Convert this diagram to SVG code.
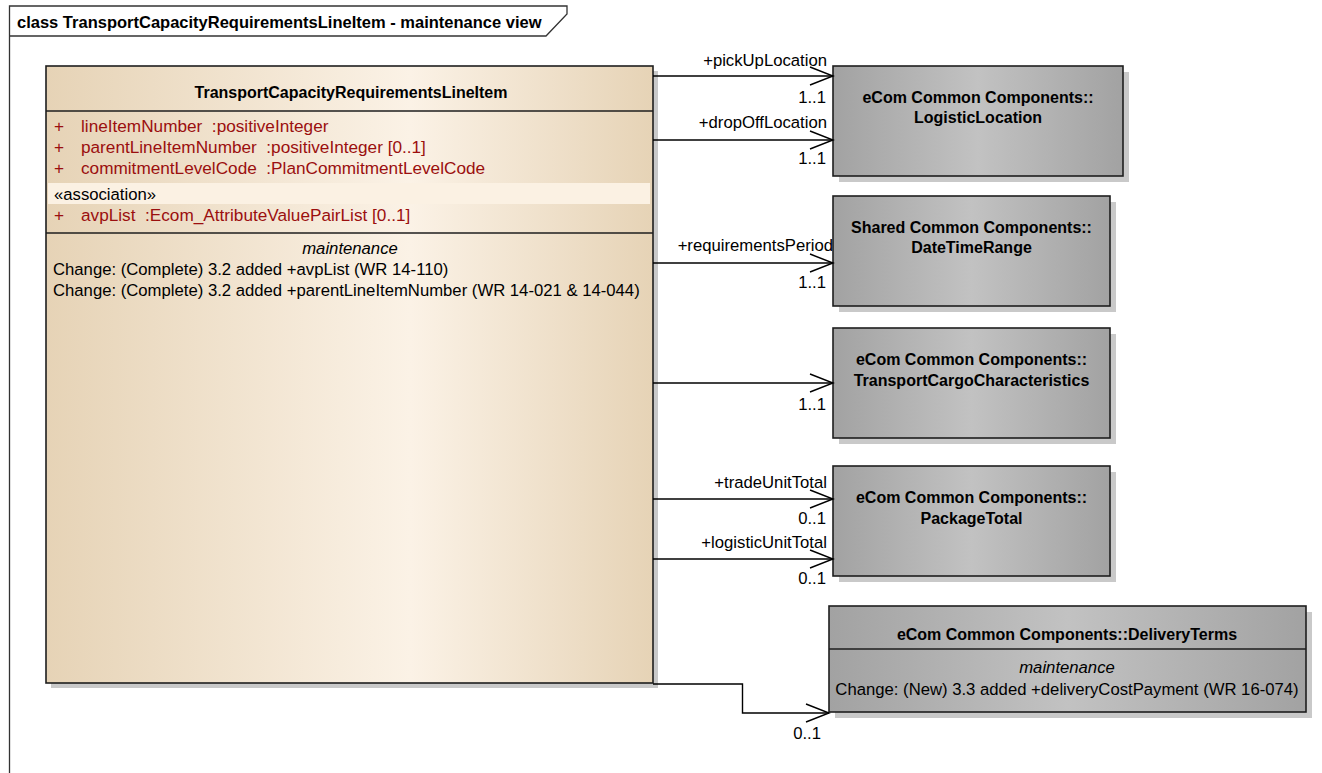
<svg xmlns="http://www.w3.org/2000/svg" width="1322" height="773" viewBox="0 0 1322 773">
<style>
text{font-family:"Liberation Sans",Arial,sans-serif;font-size:16.7px;fill:#000}
.b{font-weight:bold;font-size:16px}
.t{font-weight:bold;font-size:16.5px}
.attr{fill:#9b0f0f;font-size:17.2px;white-space:pre}
.it{font-style:italic}
.c{text-anchor:middle}
.r{text-anchor:end}
.box{stroke:#1e1e1e;stroke-width:1.6}
.sh{fill:#c9c9c9}
.ln{fill:none;stroke:#000;stroke-width:1.4}
</style>
<defs>
<linearGradient id="tan" x1="0" y1="0" x2="1" y2="0">
<stop offset="0" stop-color="#e6d3b6"/>
<stop offset="0.6" stop-color="#fbf2e6"/>
<stop offset="1" stop-color="#e6d3b6"/>
</linearGradient>
<linearGradient id="gray" x1="0" y1="0" x2="1" y2="0">
<stop offset="0" stop-color="#a2a2a2"/>
<stop offset="0.5" stop-color="#c2c2c2"/>
<stop offset="1" stop-color="#a2a2a2"/>
</linearGradient>
<marker id="open" markerWidth="26" markerHeight="22" refX="24" refY="11" orient="auto" markerUnits="userSpaceOnUse">
<path d="M1,2 L24,11 L1,20" fill="none" stroke="#000" stroke-width="1.4"/>
</marker>
</defs>
<rect width="1322" height="773" fill="#fff"/>
<g id="frame">
<path d="M9.5,773 V6 H567 V14 L546,36 H9.5" fill="none" stroke="#333" stroke-width="1.3"/>
<text x="17" y="28" class="t">class TransportCapacityRequirementsLineItem - maintenance view</text>
</g>
<g id="TransportCapacityRequirementsLineItem">
<rect x="51" y="71" width="607" height="617" class="sh"/>
<rect x="46" y="66" width="607" height="617" fill="url(#tan)" class="box"/>
<line x1="46" y1="111" x2="653" y2="111" class="box"/>
<text x="351" y="98" class="b c">TransportCapacityRequirementsLineItem</text>
<text x="54" y="132" class="attr">+</text><text x="81" y="132" class="attr" xml:space="preserve">lineItemNumber  :positiveInteger</text>
<text x="54" y="153" class="attr">+</text><text x="81" y="153" class="attr" xml:space="preserve">parentLineItemNumber  :positiveInteger [0..1]</text>
<text x="54" y="174" class="attr">+</text><text x="81" y="174" class="attr" xml:space="preserve">commitmentLevelCode  :PlanCommitmentLevelCode</text>
<rect x="48" y="183" width="602" height="21" fill="#fbf1e3"/>
<text x="54" y="200">«association»</text>
<text x="54" y="221" class="attr">+</text><text x="81" y="221" class="attr" xml:space="preserve">avpList  :Ecom_AttributeValuePairList [0..1]</text>
<line x1="46" y1="233" x2="653" y2="233" class="box"/>
<text x="350" y="254" class="it c">maintenance</text>
<text x="53" y="275">Change: (Complete) 3.2 added +avpList (WR 14-110)</text>
<text x="53" y="296">Change: (Complete) 3.2 added +parentLineItemNumber (WR 14-021 &amp; 14-044)</text>
</g>
<g id="LogisticLocation">
<rect x="839" y="72" width="290" height="110" class="sh"/>
<rect x="833" y="66" width="290" height="110" fill="url(#gray)" class="box"/>
<text x="978" y="103" class="b c">eCom Common Components::</text>
<text x="978" y="123" class="b c">LogisticLocation</text>
</g>
<g id="DateTimeRange">
<rect x="839" y="202" width="277" height="110" class="sh"/>
<rect x="833" y="196" width="277" height="110" fill="url(#gray)" class="box"/>
<text x="971.5" y="233" class="b c">Shared Common Components::</text>
<text x="971.5" y="253" class="b c">DateTimeRange</text>
</g>
<g id="TransportCargoCharacteristics">
<rect x="839" y="334" width="277" height="110" class="sh"/>
<rect x="833" y="328" width="277" height="110" fill="url(#gray)" class="box"/>
<text x="971.5" y="365" class="b c">eCom Common Components::</text>
<text x="971.5" y="386" class="b c">TransportCargoCharacteristics</text>
</g>
<g id="PackageTotal">
<rect x="839" y="472" width="277" height="110" class="sh"/>
<rect x="833" y="466" width="277" height="110" fill="url(#gray)" class="box"/>
<text x="971.5" y="503" class="b c">eCom Common Components::</text>
<text x="971.5" y="524" class="b c">PackageTotal</text>
</g>
<g id="DeliveryTerms">
<rect x="835" y="612" width="477" height="106" class="sh"/>
<rect x="829" y="606" width="477" height="106" fill="url(#gray)" class="box"/>
<line x1="829" y1="649" x2="1306" y2="649" class="box"/>
<text x="1067" y="640" class="b c">eCom Common Components::DeliveryTerms</text>
<text x="1067" y="673" class="it c">maintenance</text>
<text x="1067" y="695" class="c">Change: (New) 3.3 added +deliveryCostPayment (WR 16-074)</text>
</g>
<g id="connectors">
<path d="M653,76 H833" class="ln" marker-end="url(#open)"/>
<text x="827" y="66" class="r">+pickUpLocation</text>
<text x="826" y="103" class="r">1..1</text>
<path d="M653,140 H833" class="ln" marker-end="url(#open)"/>
<text x="827" y="128" class="r">+dropOffLocation</text>
<text x="826" y="164" class="r">1..1</text>
<path d="M653,263 H833" class="ln" marker-end="url(#open)"/>
<text x="833" y="251" class="r">+requirementsPeriod</text>
<text x="826" y="288" class="r">1..1</text>
<path d="M653,383 H833" class="ln" marker-end="url(#open)"/>
<text x="826" y="410" class="r">1..1</text>
<path d="M653,499 H833" class="ln" marker-end="url(#open)"/>
<text x="827" y="488" class="r">+tradeUnitTotal</text>
<text x="826" y="524" class="r">0..1</text>
<path d="M653,559 H833" class="ln" marker-end="url(#open)"/>
<text x="827" y="548" class="r">+logisticUnitTotal</text>
<text x="826" y="584" class="r">0..1</text>
<path d="M653,684 H742.5 V713 H829" class="ln" marker-end="url(#open)"/>
<text x="821" y="739" class="r">0..1</text>
</g>
</svg>
